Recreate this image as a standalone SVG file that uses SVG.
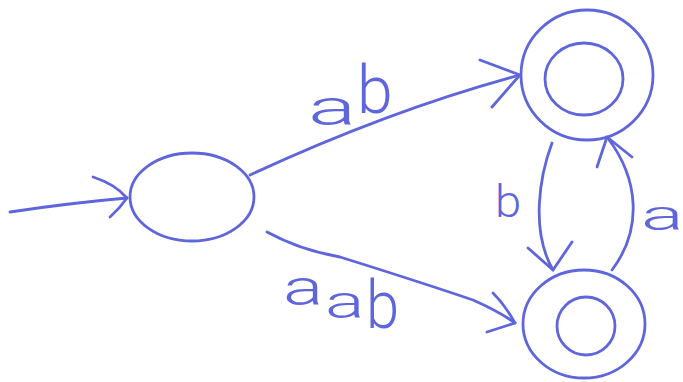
<svg xmlns="http://www.w3.org/2000/svg" width="683" height="382" viewBox="0 0 683 382">
<style>
.s{fill:none;stroke:#5f66dc;stroke-width:2.8;stroke-linecap:round;stroke-linejoin:round}
.t{fill:#5f66dc;font-family:Roboto,"Liberation Sans",sans-serif;font-weight:300}
</style>
<rect width="683" height="382" fill="#ffffff"/>
<g id="edges">
<path class="s" d="M10 212 Q70 203 127 198"/>
<path class="s" d="M93 177 Q115 184 127 198 Q120 208 110 217"/>
<path class="s" d="M250 175 Q390 110 520 75"/>
<path class="s" d="M480 60 L520 75 L492 107"/>
<path class="s" d="M267 232 Q300 250 340 257 Q420 282 473 300 Q500 312 515 323"/>
<path class="s" d="M493 293 Q505 305 515 323 L487 332"/>
<path class="s" d="M552 143 C540 175 530 230 553 270"/>
<path class="s" d="M528 248 L553 270 L572 242"/>
<path class="s" d="M612 270 C642 230 640 180 607 137"/>
<path class="s" d="M597 167 L607 137 L632 157"/>
<text class="t" font-size="50" transform="translate(308,125) scale(1.8,1)">a</text>
<text class="t" font-size="46" transform="translate(357,113) scale(1.4,1.45)">b</text>
<text class="t" font-size="50" transform="translate(283,305) scale(1.5,1)">a</text>
<text class="t" font-size="46" transform="translate(325,318) scale(1.6,1)">a</text>
<text class="t" font-size="46" transform="translate(366,328) scale(1.3,1.45)">b</text>
<text class="t" font-size="45" transform="translate(495,217) scale(1.05,1)">b</text>
<text class="t" font-size="42" transform="translate(641,230) scale(1.9,1)">a</text>
</g>
<g id="q0"><ellipse class="s" cx="192" cy="197" rx="62" ry="44"/></g>
<g id="q1"><ellipse class="s" cx="587" cy="75" rx="66" ry="65"/><ellipse class="s" cx="584" cy="79" rx="39" ry="36"/></g>
<g id="q2"><ellipse class="s" cx="584" cy="324" rx="61" ry="54"/><ellipse class="s" cx="586" cy="326" rx="29" ry="29"/></g>
</svg>
